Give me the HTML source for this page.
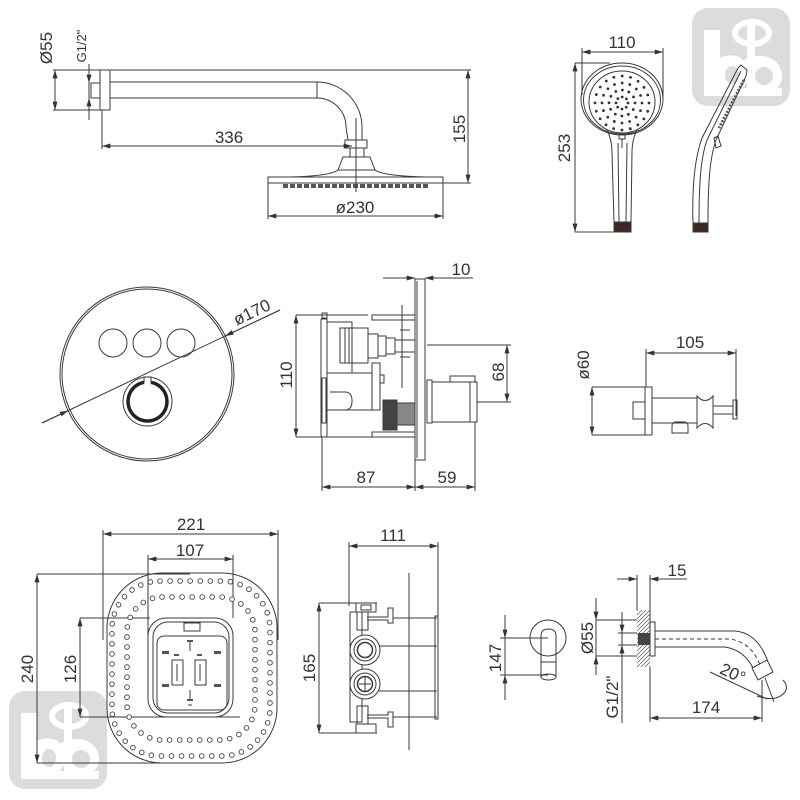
<!DOCTYPE html>
<html><head><meta charset="utf-8"><style>
html,body{margin:0;padding:0;background:#fff;}
svg{display:block;}
text{font-family:"Liberation Sans",sans-serif;fill:#333;}
</style></head><body>
<svg width="800" height="800" viewBox="0 0 800 800" xmlns="http://www.w3.org/2000/svg">
<defs>
<marker id="a" viewBox="0 0 10 6" refX="10" refY="3" markerWidth="10" markerHeight="5" markerUnits="userSpaceOnUse" orient="auto-start-reverse"><path d="M0,0L10,3L0,6z" fill="#333"/></marker>
<pattern id="h" patternUnits="userSpaceOnUse" width="4" height="4"><path d="M-1,5L5,-1M-1,1L1,-1M3,5L5,3" stroke="#555" stroke-width="0.7"/></pattern>
<g id="logo">
<rect x="0" y="0" width="98" height="98" rx="16" fill="#dcdcdc"/>
<g fill="#fff">
<rect x="12" y="22" width="16" height="64"/>
<path d="M28,50 C40,44 56,48 56,66 C56,80 44,88 28,86 Z"/>
<path d="M52,52 C72,42 90,52 90,68 C90,82 76,88 56,86 Z"/>
<rect x="12" y="80" width="78" height="8"/>
<rect x="55" y="12" width="8" height="42"/>
</g>
<ellipse cx="40" cy="67" rx="7" ry="9" fill="#dcdcdc"/>
<ellipse cx="72" cy="68" rx="9" ry="9" fill="#dcdcdc"/>
<ellipse cx="60" cy="25" rx="17" ry="11" fill="none" stroke="#fff" stroke-width="6"/>
</g>
</defs>

<use href="#logo" transform="translate(692,8)"/>
<use href="#logo" transform="translate(9,691)"/>

<g fill="none" stroke="#3a3a3a" stroke-width="1">
<!-- ===== Section 1: shower arm ===== -->
<line x1="53" y1="70" x2="471" y2="70"/>
<line x1="53" y1="110" x2="100" y2="110"/>
<line x1="55" y1="70" x2="55" y2="110" marker-start="url(#a)" marker-end="url(#a)"/>
<line x1="89" y1="64" x2="89" y2="120"/>
<line x1="89" y1="70" x2="89" y2="83" marker-end="url(#a)"/>
<line x1="89" y1="111" x2="89" y2="98" marker-end="url(#a)"/>
<rect x="100" y="70" width="10" height="40"/>
<rect x="91" y="83" width="9" height="15"/>
<line x1="110" y1="82" x2="317" y2="82"/>
<line x1="110" y1="98" x2="317" y2="98"/>
<line x1="317" y1="82" x2="317" y2="98"/>
<path d="M317,82 A45,45 0 0 1 362,127 V140"/>
<path d="M317,98 A29,29 0 0 1 346,127 L348,140"/>
<rect x="345" y="140" width="22" height="8"/>
<rect x="350" y="148" width="14" height="9"/>
<path d="M343,157 H370 L375,170 H338 Z"/>
<path d="M338,170 Q330,176 290,177"/>
<path d="M375,170 Q383,176 425,177"/>
<rect x="268" y="177" width="175" height="6"/>
<line x1="283" y1="186" x2="428" y2="186" stroke="#555" stroke-width="4" stroke-dasharray="5 2"/>
<line x1="356" y1="118" x2="356" y2="192"/>
<line x1="102" y1="110" x2="102" y2="149"/>
<line x1="102" y1="146" x2="352" y2="146" marker-start="url(#a)" marker-end="url(#a)"/>
<line x1="468" y1="70" x2="468" y2="183" marker-start="url(#a)" marker-end="url(#a)"/>
<line x1="443" y1="183" x2="471" y2="183"/>
<line x1="268" y1="183" x2="268" y2="219"/>
<line x1="443" y1="183" x2="443" y2="219"/>
<line x1="268" y1="216" x2="443" y2="216" marker-start="url(#a)" marker-end="url(#a)"/>

<!-- ===== Section 2: hand shower ===== -->
<line x1="582" y1="48" x2="582" y2="95"/>
<line x1="663" y1="48" x2="663" y2="98"/>
<line x1="582" y1="52" x2="663" y2="52" marker-start="url(#a)" marker-end="url(#a)"/>
<line x1="575" y1="63" x2="610" y2="63"/>
<line x1="575" y1="232" x2="613" y2="232"/>
<line x1="575" y1="63" x2="575" y2="232" marker-start="url(#a)" marker-end="url(#a)"/>
<ellipse cx="622" cy="99" rx="41" ry="36"/>
<ellipse cx="622" cy="100" rx="38.5" ry="34"/>
<ellipse cx="622" cy="102" rx="33" ry="31"/>
<g stroke="#333" stroke-width="2.8" stroke-linecap="round">
<circle cx="622" cy="103" r="6" stroke-dasharray="0 4.712"/>
<circle cx="622" cy="103" r="13" stroke-dasharray="0 6.807"/>
<circle cx="622" cy="103" r="20" stroke-dasharray="0 7.854"/>
<circle cx="622" cy="103" r="27" stroke-dasharray="0 8.482"/>
</g>
<path d="M607,130 Q612,140 612,152 L614,222"/>
<path d="M637,130 Q632,140 632,152 L631,222"/>
<path d="M618,143 L619,222"/>
<path d="M627,143 L626,222"/>
<rect x="619" y="134" width="6" height="5"/>
<line x1="622" y1="139" x2="622" y2="148"/>
<rect x="614" y="222" width="17" height="10" fill="#3a2a22"/>
<rect x="693" y="223" width="15" height="9" fill="#3a2a22"/>
<path d="M693,223 C692,190 694,160 702,138 L738,68"/>
<path d="M708,223 C708,190 709,160 716,140 L746,76"/>
<path d="M699,223 C699,190 700,160 707,140 L741,71"/>
<path d="M738,68 L741,65 L747,70 L746,76"/>
<line x1="744" y1="80" x2="719" y2="128" stroke="#555" stroke-width="3" stroke-dasharray="2 1.5"/>
<path d="M714,138 L718,136 L721,146 L716,148 Z"/>

<!-- ===== Section 3: round plate ===== -->
<circle cx="147" cy="374" r="87"/>
<circle cx="147" cy="374" r="85"/>
<circle cx="113" cy="343" r="14"/>
<circle cx="147" cy="343" r="14"/>
<circle cx="181" cy="343" r="14"/>
<circle cx="147.5" cy="401.5" r="24.5"/>
<path d="M150.9,382.3 A19.5,19.5 0 1 1 144.1,382.3" stroke="#222" stroke-width="3.5"/>
<path d="M144.1,382.3 L144,377 L151,377 L150.9,382.3"/>
<line x1="42" y1="423" x2="280" y2="310"/>
<line x1="42" y1="423" x2="68.1" y2="410.6" marker-end="url(#a)"/>
<line x1="280" y1="310" x2="225.2" y2="336" marker-end="url(#a)"/>

<!-- ===== Section 4: valve side ===== -->
<rect x="415" y="279" width="10" height="181"/>
<line x1="417" y1="281" x2="417" y2="458"/>
<line x1="383" y1="278" x2="415" y2="278" marker-end="url(#a)"/>
<line x1="473" y1="278" x2="425" y2="278" marker-end="url(#a)"/>
<line x1="296" y1="315" x2="296" y2="437" marker-start="url(#a)" marker-end="url(#a)"/>
<line x1="296" y1="315" x2="368" y2="315"/>
<line x1="296" y1="437" x2="372" y2="437"/>
<rect x="321" y="318" width="6" height="119" rx="2"/>
<rect x="322" y="313" width="5" height="6"/>
<rect x="322" y="378" width="4" height="45"/>
<rect x="327" y="322" width="25" height="51"/>
<rect x="340" y="328" width="28" height="35"/>
<line x1="345" y1="328" x2="345" y2="363"/>
<line x1="349" y1="328" x2="349" y2="363"/>
<rect x="368" y="334" width="10" height="24"/>
<rect x="378" y="336" width="8" height="20"/>
<rect x="386" y="338" width="9" height="16"/>
<rect x="395" y="340" width="20" height="12"/>
<rect x="372" y="315" width="43" height="5"/>
<rect x="372" y="432" width="43" height="5"/>
<line x1="402" y1="305" x2="402" y2="388"/>
<line x1="400" y1="330" x2="410" y2="330"/>
<line x1="400" y1="357" x2="410" y2="357"/>
<rect x="327" y="373" width="45" height="37"/>
<rect x="372" y="363" width="8" height="47"/>
<rect x="380" y="375" width="4" height="8"/>
<path d="M330,392 H345 Q352,392 352,401 Q352,410 345,410 H330"/>
<line x1="327" y1="410" x2="327" y2="430"/>
<rect x="383" y="400" width="14" height="30" fill="#444"/>
<rect x="397" y="403" width="18" height="22" fill="#888"/>
<rect x="427" y="380" width="5" height="43"/>
<rect x="432" y="382" width="45" height="40"/>
<rect x="450" y="376" width="25" height="6"/>
<line x1="470" y1="382" x2="470" y2="422"/>
<line x1="427" y1="345" x2="511" y2="345"/>
<line x1="477" y1="402" x2="511" y2="402"/>
<line x1="507" y1="345" x2="507" y2="402" marker-start="url(#a)" marker-end="url(#a)"/>
<line x1="322" y1="437" x2="322" y2="491"/>
<line x1="415" y1="460" x2="415" y2="491"/>
<line x1="475" y1="422" x2="475" y2="491"/>
<line x1="322" y1="487" x2="415" y2="487" marker-start="url(#a)" marker-end="url(#a)"/>
<line x1="415" y1="487" x2="475" y2="487" marker-start="url(#a)" marker-end="url(#a)"/>

<!-- ===== Section 5: wall elbow ===== -->
<line x1="592" y1="387" x2="652" y2="387"/>
<line x1="592" y1="435" x2="652" y2="435"/>
<line x1="592" y1="387" x2="592" y2="435" marker-start="url(#a)" marker-end="url(#a)"/>
<line x1="646" y1="349" x2="646" y2="387"/>
<line x1="736" y1="349" x2="736" y2="416"/>
<line x1="646" y1="353" x2="736" y2="353" marker-start="url(#a)" marker-end="url(#a)"/>
<rect x="645" y="387" width="7" height="48"/>
<rect x="633" y="402" width="12" height="17"/>
<rect x="652" y="398" width="45" height="25"/>
<path d="M697,396 C702,402 708,402 713,396 V428 C708,422 702,422 697,428 Z"/>
<rect x="713" y="406" width="20" height="8"/>
<rect x="733" y="400" width="4" height="19"/>
<path d="M672,433 V426 Q672,422 676,422 H684 Q688,422 688,426 V433 Z"/>

<!-- ===== Section 6: concealed box front ===== -->
<line x1="103" y1="530" x2="103" y2="640"/>
<line x1="278" y1="530" x2="278" y2="640"/>
<line x1="103" y1="534" x2="278" y2="534" marker-start="url(#a)" marker-end="url(#a)"/>
<line x1="148" y1="555" x2="148" y2="640"/>
<line x1="233" y1="555" x2="233" y2="618"/>
<line x1="148" y1="559" x2="233" y2="559" marker-start="url(#a)" marker-end="url(#a)"/>
<line x1="37" y1="574" x2="190" y2="574"/>
<line x1="37" y1="763" x2="190" y2="763"/>
<line x1="37" y1="574" x2="37" y2="763" marker-start="url(#a)" marker-end="url(#a)"/>
<line x1="80" y1="618" x2="150" y2="618"/>
<line x1="80" y1="717" x2="240" y2="717"/>
<line x1="80" y1="618" x2="80" y2="717" marker-start="url(#a)" marker-end="url(#a)"/>
<rect x="107" y="573" width="170" height="190" rx="55"/>
<rect x="112" y="581" width="158" height="175" rx="48" stroke="#444" stroke-width="5.6" stroke-linecap="round" stroke-dasharray="0 10.06"/>
<rect x="112" y="581" width="158" height="175" rx="48" stroke="#fff" stroke-width="3.8" stroke-linecap="round" stroke-dasharray="0 10.06"/>
<rect x="127" y="597" width="128" height="143" rx="35" stroke="#444" stroke-width="5.6" stroke-linecap="round" stroke-dasharray="0 10.04"/>
<rect x="127" y="597" width="128" height="143" rx="35" stroke="#fff" stroke-width="3.8" stroke-linecap="round" stroke-dasharray="0 10.04"/>
<rect x="148" y="618" width="85" height="99" rx="18" fill="#fff"/>
<rect x="153" y="622" width="76" height="91" rx="15"/>
<rect x="157" y="636" width="70" height="74" rx="7"/>
<rect x="184" y="623" width="16" height="8"/>
<rect x="172" y="660" width="11" height="25"/>
<rect x="195" y="660" width="11" height="25"/>
<line x1="177" y1="664" x2="177" y2="681"/>
<line x1="200" y1="664" x2="200" y2="681"/>
<line x1="190" y1="641" x2="190" y2="651"/>
<line x1="190" y1="690" x2="190" y2="700"/>
<line x1="188" y1="705" x2="192" y2="705"/>
</g>
<g fill="#555">
<rect x="187" y="640" width="6" height="2"/>
<rect x="162" y="651" width="7" height="3"/>
<rect x="214" y="651" width="7" height="3"/>
<rect x="162" y="684" width="7" height="3"/>
<rect x="214" y="684" width="7" height="3"/>
<rect x="187" y="699" width="6" height="2"/>
<rect x="174" y="654" width="5" height="2"/>
<rect x="197" y="654" width="5" height="2"/>
</g>

<g fill="none" stroke="#3a3a3a" stroke-width="1">
<!-- ===== Section 7: valve body side ===== -->
<line x1="349" y1="542" x2="349" y2="606"/>
<line x1="438" y1="542" x2="438" y2="618"/>
<line x1="349" y1="546" x2="438" y2="546" marker-start="url(#a)" marker-end="url(#a)"/>
<line x1="409" y1="573" x2="409" y2="750"/>
<line x1="319" y1="603" x2="377" y2="603"/>
<line x1="319" y1="733" x2="377" y2="733"/>
<line x1="319" y1="603" x2="319" y2="733" marker-start="url(#a)" marker-end="url(#a)"/>
<rect x="350" y="612" width="12" height="110"/>
<rect x="356" y="603" width="20" height="9"/>
<rect x="361" y="605" width="10" height="5"/>
<rect x="357" y="612" width="11" height="18"/>
<path d="M367,617 H388 V608 H393 V623 H388 V620 H367"/>
<rect x="356" y="724" width="20" height="9"/>
<rect x="357" y="706" width="11" height="18"/>
<path d="M367,718 H388 V727 H393 V712 H388 V715 H367"/>
<line x1="393" y1="618" x2="437" y2="618"/>
<line x1="379" y1="646" x2="437" y2="646"/>
<line x1="379" y1="691" x2="437" y2="691"/>
<line x1="393" y1="717" x2="437" y2="717"/>
<rect x="435" y="616" width="3" height="103"/>
<circle cx="365" cy="650" r="15" fill="#fff"/>
<circle cx="365" cy="650" r="11"/>
<circle cx="365" cy="650" r="7.5" stroke-width="1.5"/>
<circle cx="365" cy="684" r="15" fill="#fff"/>
<circle cx="365" cy="684" r="11"/>
<circle cx="365" cy="684" r="7.5" stroke-width="1.5"/>
<line x1="365" y1="677" x2="365" y2="691"/>
<line x1="359" y1="684" x2="371" y2="684"/>

<!-- ===== Section 8: spout ===== -->
<line x1="505" y1="615" x2="505" y2="700"/>
<line x1="505" y1="618" x2="505" y2="638" marker-end="url(#a)"/>
<line x1="505" y1="697" x2="505" y2="675" marker-end="url(#a)"/>
<line x1="500" y1="638" x2="548" y2="638"/>
<line x1="500" y1="675" x2="548" y2="675"/>
<circle cx="548" cy="638" r="18"/>
<path d="M541,677 V636 Q541,629 548.5,629 Q556,629 556,636 V677"/>
<ellipse cx="548.5" cy="677" rx="7.5" ry="3"/>
<line x1="541" y1="662" x2="556" y2="662"/>
<line x1="617" y1="579" x2="637" y2="579" marker-end="url(#a)"/>
<line x1="687" y1="579" x2="650" y2="579" marker-end="url(#a)"/>
<line x1="637" y1="575" x2="637" y2="610"/>
<line x1="650" y1="575" x2="650" y2="622"/>
<rect x="637" y="610" width="13" height="57" fill="url(#h)" stroke="none"/>
<rect x="638" y="633" width="12" height="12" fill="#444" stroke="none"/>
<line x1="596" y1="598" x2="596" y2="675"/>
<line x1="596" y1="600" x2="596" y2="620" marker-end="url(#a)"/>
<line x1="596" y1="675" x2="596" y2="656" marker-end="url(#a)"/>
<line x1="596" y1="620" x2="637" y2="620"/>
<line x1="596" y1="656" x2="637" y2="656"/>
<line x1="622" y1="612" x2="622" y2="723"/>
<line x1="622" y1="614" x2="622" y2="633" marker-end="url(#a)"/>
<line x1="622" y1="664" x2="622" y2="645" marker-end="url(#a)"/>
<line x1="618" y1="633" x2="637" y2="633"/>
<line x1="618" y1="645" x2="637" y2="645"/>
<rect x="650" y="622" width="5" height="34"/>
<path d="M655,631 H735 Q758,633 768,662"/>
<path d="M655,647 H725 Q744,650 753,668"/>
<path d="M655,639 H730 Q751,642 760,665" stroke-dasharray="4 3"/>
<path d="M752,668 L767,660 L773,672 L758,680 Z"/>
<line x1="650" y1="667" x2="650" y2="722"/>
<line x1="762" y1="680" x2="762" y2="722"/>
<line x1="650" y1="718" x2="762" y2="718" marker-start="url(#a)" marker-end="url(#a)"/>
<line x1="710" y1="672" x2="767" y2="699"/>
<line x1="765" y1="678" x2="774" y2="702"/>
<path d="M757,696 Q775,702 783,694 Q790,688 783,680"/>
</g>

<!-- ===== Text ===== -->
<g font-size="17">
<text transform="translate(46,48) rotate(-90)" text-anchor="middle" y="6">Ø55</text>
<text transform="translate(81,46) rotate(-90)" text-anchor="middle" y="5" font-size="13">G1/2"</text>
<text x="229" y="143" text-anchor="middle">336</text>
<text transform="translate(459,129) rotate(-90)" text-anchor="middle" y="6">155</text>
<text x="355" y="213" text-anchor="middle">ø230</text>
<text x="622" y="48" text-anchor="middle">110</text>
<text transform="translate(564,148) rotate(-90)" text-anchor="middle" y="6">253</text>
<text transform="translate(256,321) rotate(-25.4)" text-anchor="middle" y="-4">ø170</text>
<text x="461" y="275" text-anchor="middle">10</text>
<text transform="translate(286,375) rotate(-90)" text-anchor="middle" y="6">110</text>
<text transform="translate(498,372) rotate(-90)" text-anchor="middle" y="6">68</text>
<text x="366" y="483" text-anchor="middle">87</text>
<text x="447" y="483" text-anchor="middle">59</text>
<text transform="translate(583,365) rotate(-90)" text-anchor="middle" y="6">ø60</text>
<text x="690" y="348" text-anchor="middle">105</text>
<text x="191" y="530" text-anchor="middle">221</text>
<text x="190" y="556" text-anchor="middle">107</text>
<text transform="translate(27,669) rotate(-90)" text-anchor="middle" y="6">240</text>
<text transform="translate(70,669) rotate(-90)" text-anchor="middle" y="6">126</text>
<text x="393" y="541" text-anchor="middle">111</text>
<text transform="translate(309,668) rotate(-90)" text-anchor="middle" y="6">165</text>
<text transform="translate(495,658) rotate(-90)" text-anchor="middle" y="6">147</text>
<text x="677" y="576" text-anchor="middle">15</text>
<text transform="translate(587,638) rotate(-90)" text-anchor="middle" y="6">Ø55</text>
<text transform="translate(612,697) rotate(-90)" text-anchor="middle" y="6">G1/2"</text>
<text transform="translate(733,673) rotate(25)" text-anchor="middle" y="6">20°</text>
<text x="706" y="713" text-anchor="middle">174</text>
</g>
</svg>
</body></html>
